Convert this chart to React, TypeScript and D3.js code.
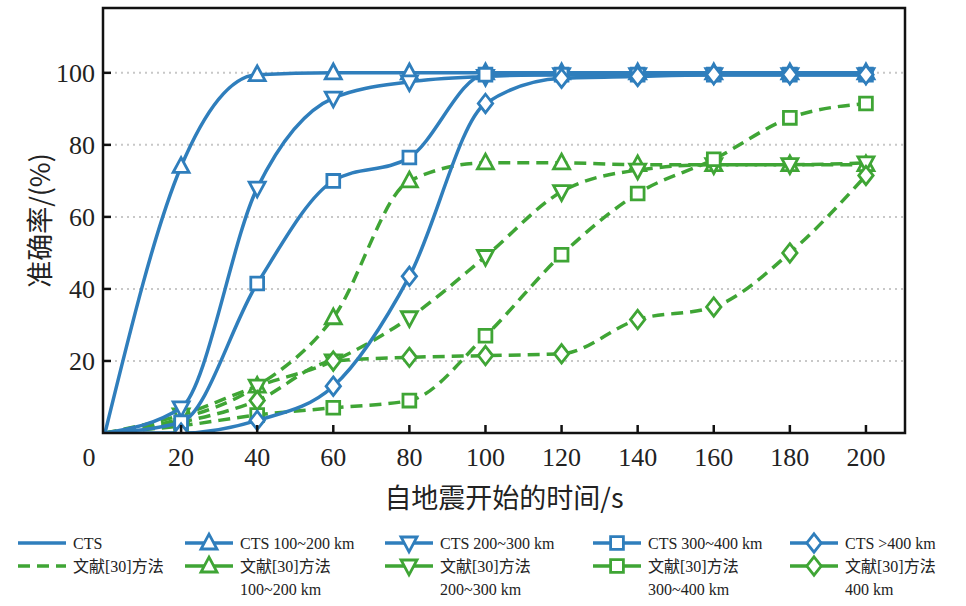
import * as d3 from 'd3'

const xTicks = [0, 20, 40, 60, 80, 100, 120, 140, 160, 180, 200]
const yTicks = [20, 40, 60, 80, 100]
const xs = [0, 20, 40, 60, 80, 100, 120, 140, 160, 180, 200]

const cts100 = [0, 74, 99.5, 100, 100, 100, 100, 100, 100, 100, 100]
const cts200 = [0, 7, 68, 93, 97.5, 99, 99.5, 99.5, 99.5, 99.5, 99.5]
const cts300 = [0, 3, 41.5, 70, 76.5, 99.5, 99.5, 99.5, 99.5, 99.5, 99.5]
const cts400 = [0, 0, 3.5, 13, 43.5, 91.5, 98.5, 99, 99.5, 99.5, 99.5]
const ref100 = [0, 4, 13, 32, 70, 75, 75, 74.5, 74.5, 74.5, 74.5]
const ref200 = [0, 5, 13, 20, 32, 49, 67, 73, 74.5, 74.5, 75]
const ref300 = [0, 2, 5, 7, 9, 27, 49.5, 66.5, 76, 87.5, 91.5]
const ref400 = [0, 3, 9, 20, 21, 21.5, 22, 31.5, 35, 50, 71.5]

const BLUE = '#2f7ebc'
const GREEN = '#3fa535'

type Marker = 'up' | 'down' | 'square' | 'diamond'
const series: { vals: number[]; color: string; dash: boolean; marker: Marker }[] = [
  { vals: ref100, color: GREEN, dash: true, marker: 'up' },
  { vals: ref200, color: GREEN, dash: true, marker: 'down' },
  { vals: ref300, color: GREEN, dash: true, marker: 'square' },
  { vals: ref400, color: GREEN, dash: true, marker: 'diamond' },
  { vals: cts100, color: BLUE, dash: false, marker: 'up' },
  { vals: cts200, color: BLUE, dash: false, marker: 'down' },
  { vals: cts300, color: BLUE, dash: false, marker: 'square' },
  { vals: cts400, color: BLUE, dash: false, marker: 'diamond' },
]

const legendRow1 = [
  { label: ['CTS'], color: BLUE, dash: false, marker: null },
  { label: ['CTS 100~200 km'], color: BLUE, dash: false, marker: 'up' },
  { label: ['CTS 200~300 km'], color: BLUE, dash: false, marker: 'down' },
  { label: ['CTS 300~400 km'], color: BLUE, dash: false, marker: 'square' },
  { label: ['CTS >400 km'], color: BLUE, dash: false, marker: 'diamond' },
]
const legendRow2 = [
  { label: ['文献[30]方法'], color: GREEN, dash: true, marker: null },
  { label: ['文献[30]方法', '100~200 km'], color: GREEN, dash: false, marker: 'up' },
  { label: ['文献[30]方法', '200~300 km'], color: GREEN, dash: false, marker: 'down' },
  { label: ['文献[30]方法', '300~400 km'], color: GREEN, dash: false, marker: 'square' },
  { label: ['文献[30]方法', '400 km'], color: GREEN, dash: false, marker: 'diamond' },
]
const legendX = [18, 185, 385, 593, 790]

const left = 103
const right = 905
const top = 8
const bottom = 433

const x = d3.scaleLinear().domain([0, 210]).range([105, 904])
const y = d3.scaleLinear().domain([0, 118]).range([bottom, top])

function markerPath(m: Marker, s: number): string {
  if (m === 'up') return `M0,${-s * 1.1}L${s},${s * 0.75}L${-s},${s * 0.75}Z`
  if (m === 'down') return `M0,${s * 1.1}L${s},${-s * 0.75}L${-s},${-s * 0.75}Z`
  if (m === 'square') return `M${-s * 0.8},${-s * 0.8}H${s * 0.8}V${s * 0.8}H${-s * 0.8}Z`
  return `M0,${-s * 1.15}L${s * 0.9},0L0,${s * 1.15}L${-s * 0.9},0Z`
}

const serif = "'Liberation Serif', serif"
const cjk = "'Noto Sans CJK SC', sans-serif"
const mixed = "'Liberation Serif', 'Noto Sans CJK SC', serif"

export default function App() {
  const line = d3
    .line<number>()
    .x((_, i) => x(xs[i]))
    .y((d) => y(d))
    .curve(d3.curveMonotoneX)

  return (
    <svg width={966} height={606} style={{ display: 'block', position: 'absolute', left: 0, top: 0 }}>
      <defs>
        <clipPath id="plot">
          <rect x={left} y={top} width={right - left} height={bottom - top} />
        </clipPath>
      </defs>
      {yTicks.map((t) => (
        <line key={t} x1={left} x2={right} y1={y(t)} y2={y(t)} stroke="#c8c8c8" strokeWidth={2} strokeDasharray="2,4" />
      ))}
      <g clipPath="url(#plot)">
        {series.map((s, k) => (
          <g key={k}>
            <path
              d={line(s.vals) ?? ''}
              fill="none"
              stroke={s.color}
              strokeWidth={3.5}
              strokeDasharray={s.dash ? '12,7' : undefined}
            />
            {s.vals.map((v, i) =>
              i === 0 ? null : (
                <path
                  key={i}
                  transform={`translate(${x(xs[i])},${y(v)})`}
                  d={markerPath(s.marker, 8)}
                  fill="white"
                  stroke={s.color}
                  strokeWidth={2.8}
                />
              )
            )}
          </g>
        ))}
      </g>
      <rect x={left} y={top} width={right - left} height={bottom - top} fill="none" stroke="#111" strokeWidth={2.5} />
      {xTicks.map((t) => (
        <g key={t}>
          {t > 0 && <line x1={x(t)} x2={x(t)} y1={bottom} y2={bottom - 8} stroke="#111" strokeWidth={2.5} />}
          <text x={x(t) - (t === 0 ? 16 : 0)} y={bottom + 33} textAnchor="middle" fontSize={26} fill="#222" fontFamily={serif}>
            {t}
          </text>
        </g>
      ))}
      {yTicks.map((t) => (
        <g key={t}>
          <line x1={left} x2={left + 8} y1={y(t)} y2={y(t)} stroke="#111" strokeWidth={2.5} />
          <text x={left - 8} y={y(t) + 9} textAnchor="end" fontSize={26} fill="#222" fontFamily={serif}>
            {t}
          </text>
        </g>
      ))}
      <text x={(left + right) / 2} y={508} textAnchor="middle" fontSize={27} fontFamily={cjk} fill="#222">
        自地震开始的时间/s
      </text>
      <text transform={`translate(50,${(top + bottom) / 2}) rotate(-90)`} textAnchor="middle" fontSize={27} fontFamily={cjk} fill="#222">
        准确率/(%)
      </text>
      {[legendRow1, legendRow2].map((row, r) =>
        row.map((item, c) => {
          const ly = r === 0 ? 543 : 566
          const lx = legendX[c]
          return (
            <g key={`${r}-${c}`}>
              <line
                x1={lx}
                x2={lx + 48}
                y1={ly}
                y2={ly}
                stroke={item.color}
                strokeWidth={3.5}
                strokeDasharray={item.dash ? '12,7' : undefined}
              />
              {item.marker && (
                <path
                  transform={`translate(${lx + 24},${ly})`}
                  d={markerPath(item.marker as Marker, 8)}
                  fill="white"
                  stroke={item.color}
                  strokeWidth={2.8}
                />
              )}
              {item.label.map((l, j) => (
                <text key={j} x={lx + 55} y={ly + 6 + j * 23} fontSize={16} fill="#222" fontFamily={mixed}>
                  {l}
                </text>
              ))}
            </g>
          )
        })
      )}
    </svg>
  )
}
